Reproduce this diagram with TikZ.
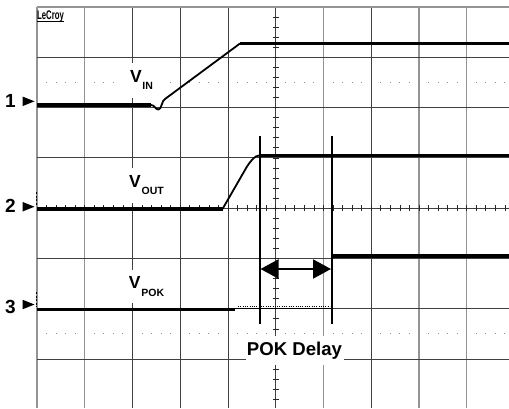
\documentclass[tikz,border=0pt]{standalone}
\usepackage{fontspec}
\setmainfont{Liberation Sans}
\newfontfamily\lsb{Liberation Sans Bold}
\usetikzlibrary{arrows.meta}
\newcommand\vlab[1]{{\fontsize{17.5}{17.5}\selectfont V}\kern0.8pt\raisebox{-7.5pt}{\fontsize{10.5}{10.5}\selectfont #1}}
\begin{document}
\begin{tikzpicture}[x=1pt,y=-1pt,
  gridd/.style={draw=black!75,line width=0.9pt},
  gridl/.style={draw=black!42,line width=1.2pt},
  trace/.style={line width=3.2pt,line join=round},
  ramp/.style={line width=1.8pt,line join=round},
  lbl/.style={fill=white,inner sep=0pt,font=\lsb},
  chn/.style={inner sep=0pt,font=\lsb\fontsize{19}{19}\selectfont,anchor=base west},
  cursorline/.style={line width=1.8pt},
  tickm/.style={line width=0.8pt,draw=black!85},
  dotm/.style={fill=black!45}
]
\useasboundingbox (0,0) rectangle (509,408);
\fill[white] (0,0) rectangle (509,408);
\def\gxo{37}\def\gdx{47.75}\def\gyo{7}\def\gdy{50.3}
% grid
\foreach \k in {0,1,6,8,9} \draw[gridl] ({\gxo+\k*\gdx},\gyo) -- ({\gxo+\k*\gdx},408);
\foreach \k in {2,3,4,5,7} \draw[gridd] ({\gxo+\k*\gdx},\gyo) -- ({\gxo+\k*\gdx},408);
\draw[gridl] (\gxo,\gyo) -- (509,\gyo);
\foreach \j in {1,...,7} \draw[gridd] (\gxo,{\gyo+\j*\gdy}) -- (509,{\gyo+\j*\gdy});
% dotted rows
\foreach \k in {0,...,9} \foreach \m in {1,2,3,4} {
  \fill[dotm] ({\gxo+\k*\gdx+\m*\gdx/5-0.5},{\gyo+1.5*\gdy-0.5}) rectangle +(1,1);
  \fill[dotm] ({\gxo+\k*\gdx+\m*\gdx/5-0.5},{\gyo+6.5*\gdy-0.5}) rectangle +(1,1);
}
% center axis ticks
\foreach \n in {1,...,39} \draw[tickm] ({\gxo+5*\gdx-3},{\gyo+\n*\gdy/5}) -- ({\gxo+5*\gdx+3},{\gyo+\n*\gdy/5});
\foreach \n in {1,...,49} \draw[tickm] ({\gxo+\n*\gdx/5},{\gyo+4*\gdy-3}) -- ({\gxo+\n*\gdx/5},{\gyo+4*\gdy+3});
% V_IN trace
\draw[trace] (\gxo,105) -- (151,105);
\draw[ramp] (151,105) .. controls (155,105) and (155,109.5) .. (158.5,109.5) .. controls (161.5,109.5) and (162,100) .. (165,99) -- (240,43.5);
\draw[trace] (240,43.5) -- (509,43.5);
% V_OUT trace
\draw[trace] (\gxo,209) -- (222.5,209);
\draw[ramp] (222.5,209) -- (247,166.5) .. controls (252,159) and (255,156) .. (259,155.5);
\draw[trace] (259,155.5) -- (509,155.5);
% V_POK trace
\draw[trace] (\gxo,309.5) -- (235,309.5);
\draw[line width=1.2pt] (235,308.3) -- (332,308.3);
\draw[line width=0.9pt,dash pattern=on 1pt off 1.3pt] (238,306.6) -- (330,306.6);
\draw[trace,line width=3.6pt] (332,256) -- (509,256);
% cursors
\coordinate (c1t) at (260,136); \coordinate (c1b) at (260,324);
\coordinate (c2t) at (332,136); \coordinate (c2b) at (332,324);
\draw[cursorline] (c1t) -- (c1b);
\draw[cursorline] (c2t) -- (c2b);
\coordinate (a1) at (260.5,269); \coordinate (a2) at (331,269);
\draw[line width=2pt,{Triangle[length=18pt,width=19pt]}-{Triangle[length=18pt,width=19pt]}] (a1) -- (a2);
% channel markers
\node[chn] (ch1) at (5,107) {1};
\fill (22.5,96.5) -- (34.5,101.3) -- (22.5,106.1) -- cycle;
\node[chn] (ch2) at (5,212) {2};
\fill (22.5,201.9) -- (34.5,206.7) -- (22.5,211.5) -- cycle;
\node[chn] (ch3) at (5,313.5) {3};
\fill (22.5,299.7) -- (34.5,304.5) -- (22.5,309.3) -- cycle;
\draw[line width=0.9pt,dash pattern=on 2pt off 1.5pt] (36.2,192) -- (36.2,206);
\draw[line width=0.9pt,dash pattern=on 2pt off 1.5pt] (36.2,292) -- (36.2,307);
% LeCroy
\node[anchor=base west,inner sep=0pt,font=\lsb\fontsize{12.5}{12.5}\selectfont] (lecroy) at (37,19.5) {\scalebox{0.62}[1]{LeCroy}};
\draw[line width=0.9pt] (lecroy.south west) ++(0,-1) -- ++(26.5,0);
% labels
\node[lbl,minimum width=40pt,minimum height=35pt] (vin) at (141.5,80) {\vlab{IN}};
\node[lbl,minimum width=42pt,minimum height=35pt] (vout) at (146.5,185) {\vlab{OUT}};
\node[lbl,minimum width=42pt,minimum height=33pt] (vpok) at (146.5,286.5) {\vlab{POK}};
\node[lbl,font=\lsb\fontsize{18.6}{18.6}\selectfont,minimum width=98pt,minimum height=29pt] (pok) at (294.5,350.5) {POK Delay};
\end{tikzpicture}
\end{document}
